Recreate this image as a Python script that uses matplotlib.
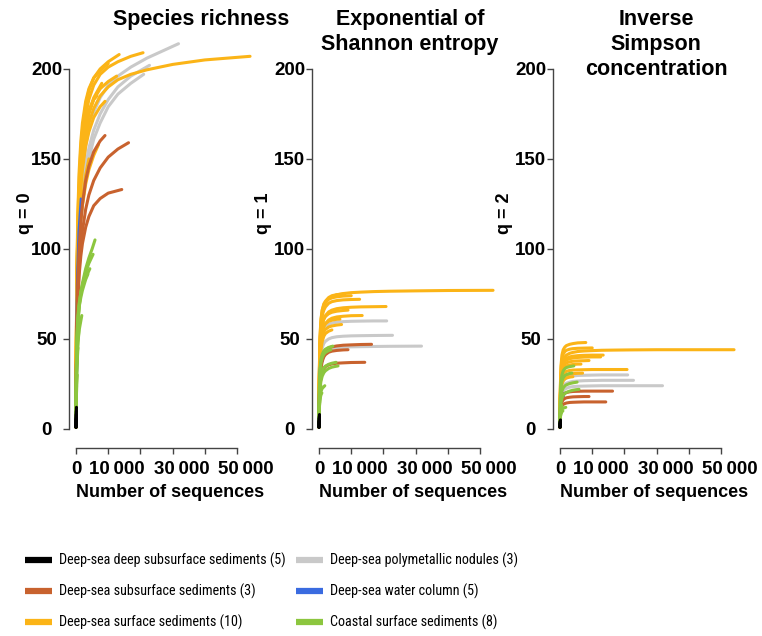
import matplotlib
matplotlib.use("Agg")
import matplotlib.pyplot as plt
from matplotlib import font_manager
from matplotlib.font_manager import FontProperties
from matplotlib.lines import Line2D
from matplotlib.transforms import ScaledTranslation


def pick_font(names):
    for name in names:
        try:
            font_manager.findfont(FontProperties(family=name), fallback_to_default=False)
            return name
        except ValueError:
            pass
    return "DejaVu Sans"


def narrow_font_file():
    fonts = font_manager.fontManager.ttflist
    regular = [f for f in fonts if f.style == "normal" and f.weight in (400, "normal", "regular")]
    for f in regular:
        if f.name in ("Liberation Sans Narrow", "Arial Narrow"):
            return f.fname
    for f in regular:
        if f.name.startswith(("Roboto", "Open Sans", "Noto Sans")) and (
                "Condensed" in f.name or f.stretch == "condensed"):
            return f.fname
    for f in regular:
        if f.name == "DejaVu Sans" and f.stretch == "condensed":
            return f.fname
    return None


MAIN_FONT = pick_font(["Liberation Sans", "Arial", "DejaVu Sans"])
plt.rcParams["font.family"] = MAIN_FONT

# ---- rarefaction curves: sequencing depth and diversity of order q = 0, 1, 2 ----
# deep-sea deep subsurface sediments
deep_depth = [[1, 60, 150], [1, 50, 120], [1, 40, 90], [1, 30, 70], [1, 20, 40]]
deep_q0 = [[1, 8, 12], [1, 7, 10], [1, 6, 8], [1, 5, 6], [1, 4, 5]]
deep_q1 = [[1, 6, 8], [1, 5, 7], [1, 4.5, 6], [1, 4, 4.5], [1, 3.5, 4]]
deep_q2 = [[1, 4, 5], [1, 4, 4.5], [1, 3.5, 4], [1, 3, 3.2], [1, 2.5, 3]]

# deep-sea subsurface sediments
subsurf_depth = [[1, 100, 300, 600, 1000, 1500, 2000, 3000, 4000, 5500, 7500, 10000, 13000, 16300],
                 [1, 100, 300, 600, 1000, 1500, 2000, 3000, 4000, 5500, 7500, 9000],
                 [1, 100, 300, 600, 1000, 1500, 2000, 3000, 4000, 5500, 7500, 10000, 14200]]
subsurf_q0 = [[1, 30, 55, 75, 90, 102, 110, 122, 130, 138, 145, 151, 155.5, 159],
              [1, 34, 62, 84, 101, 115, 125, 138, 146, 154, 160, 163],
              [1, 30, 55, 72, 86, 96, 103, 112, 118, 124, 128, 131, 133]]
subsurf_q1 = [[1, 18, 29, 36, 40, 42.5, 43.8, 45, 45.6, 46.1, 46.5, 46.7, 46.9, 47],
              [1, 17, 27, 33.5, 37.5, 40, 41.3, 42.6, 43.2, 43.6, 43.9, 44],
              [1, 15, 23, 28.5, 31.7, 33.6, 34.6, 35.6, 36.1, 36.5, 36.7, 36.9, 37]]
subsurf_q2 = [[1, 11, 15.5, 17.7, 19, 19.8, 20.2, 20.6, 20.8, 20.9, 21, 21, 21, 21],
              [1, 9, 13, 15, 16.2, 16.9, 17.3, 17.6, 17.8, 17.9, 18, 18],
              [1, 8, 11, 12.7, 13.6, 14.1, 14.4, 14.7, 14.8, 14.9, 15, 15, 15]]

# deep-sea surface sediments
surf_depth = [[1, 100, 300, 600, 1000, 1500, 2000, 3000, 4000, 5500, 7500, 10000, 13000, 17000, 22000, 30000, 40000, 54000],
              [1, 100, 300, 600, 1000, 1500, 2000, 3000, 4000, 5500, 7500, 10000, 13000, 17000, 20800],
              [1, 100, 300, 600, 1000, 1500, 2000, 3000, 4000, 5500, 7500, 10000, 13400],
              [1, 100, 300, 600, 1000, 1500, 2000, 3000, 4000, 5500, 8000],
              [1, 100, 300, 600, 1000, 1500, 2000, 3000, 4000, 5500, 7500, 10000, 12600],
              [1, 100, 300, 600, 1000, 1500, 2000, 3000, 4000, 5500, 7500, 10000],
              [1, 100, 300, 600, 1000, 1500, 2000, 3000, 4000, 5500, 6500],
              [1, 100, 300, 600, 1000, 1500, 2000, 3000, 4000, 5500, 7500, 9000],
              [1, 100, 300, 600, 1000, 1500, 2000, 3000, 4000, 5500, 7000],
              [1, 100, 300, 600, 1000, 1500, 2000, 3000, 4000]]
surf_q0 = [[1, 40, 75, 102, 122, 138, 148, 161, 170, 178, 185, 190, 194, 197, 199.5, 202.5, 205, 207],
           [1, 45, 82, 112, 133, 150, 160, 174, 183, 191, 197, 201, 204, 207, 209],
           [1, 48, 88, 118, 140, 156, 166, 180, 188, 195, 200, 204, 208],
           [1, 45, 85, 112, 132, 146, 156, 168, 176, 184, 192],
           [1, 42, 80, 108, 128, 143, 153, 166, 175, 183, 189, 193, 196],
           [1, 50, 92, 122, 144, 160, 170, 182, 189, 195, 199, 203],
           [1, 46, 86, 113, 133, 148, 158, 170, 177, 183, 185],
           [1, 40, 75, 100, 120, 134, 144, 157, 165, 173, 179, 182],
           [1, 36, 66, 88, 104, 116, 124, 136, 144, 152, 158],
           [1, 36, 66, 88, 106, 119, 128, 141, 150]]
surf_q1 = [[1, 28, 46, 57, 64, 68, 70, 72.5, 73.5, 74.5, 75.2, 75.7, 76, 76.3, 76.5, 76.7, 76.9, 77],
           [1, 27, 43, 52, 58, 61, 63, 65, 66, 66.8, 67.3, 67.6, 67.8, 67.9, 68],
           [1, 26, 41, 49, 54, 57, 58.5, 60.5, 61.5, 62.2, 62.6, 62.9, 63],
           [1, 31, 50, 60, 66, 69.5, 71, 73, 74, 74.6, 75],
           [1, 29, 47, 57, 63, 66, 67.8, 69.8, 70.7, 71.3, 71.7, 71.9, 72],
           [1, 32, 51, 61, 66, 69, 70.5, 72, 72.8, 73.4, 73.8, 74],
           [1, 24, 40, 49, 54, 57, 58.5, 59.8, 60.4, 60.9, 61],
           [1, 26, 43, 52, 58, 61, 62.5, 64, 64.8, 65.4, 65.8, 66],
           [1, 23, 38, 46, 51, 54, 55.3, 56.6, 57.2, 57.7, 58],
           [1, 23, 36, 44, 48.5, 51.5, 53, 54.3, 55]]
surf_q2 = [[1, 19, 30, 35, 38, 40, 41, 42, 42.5, 43, 43.3, 43.5, 43.7, 43.8, 43.9, 44, 44, 44],
           [1, 17, 25, 28.5, 30.5, 31.5, 32, 32.5, 32.7, 32.8, 32.9, 33, 33, 33, 33],
           [1, 19, 29, 34, 37, 38.5, 39.3, 40, 40.4, 40.7, 40.9, 41, 41],
           [1, 23, 35, 41, 44, 45.5, 46.3, 47, 47.4, 47.8, 48],
           [1, 18, 28, 33, 36, 37.5, 38.3, 39, 39.4, 39.7, 39.9, 40, 40],
           [1, 22, 33, 38.5, 41.5, 43, 43.7, 44.3, 44.6, 44.8, 44.9, 45],
           [1, 17, 26, 30.5, 33, 34.3, 35, 35.5, 35.8, 36, 36],
           [1, 17, 27, 31.5, 34.5, 36, 36.7, 37.3, 37.6, 37.8, 37.9, 38],
           [1, 15, 23, 26.5, 28.5, 29.5, 30, 30.5, 30.7, 30.9, 31],
           [1, 14, 22, 25, 26.8, 27.8, 28.3, 28.8, 29]]

# deep-sea polymetallic nodules
nodule_depth = [[1, 100, 300, 600, 1000, 1500, 2000, 3000, 4000, 5500, 7500, 10000, 13000, 17000, 22000, 31800],
                [1, 100, 300, 600, 1000, 1500, 2000, 3000, 4000, 5500, 7500, 10000, 13000, 17000, 22800],
                [1, 100, 300, 600, 1000, 1500, 2000, 3000, 4000, 5500, 7500, 10000, 13000, 17000, 21000]]
nodule_q0 = [[1, 38, 70, 95, 115, 131, 142, 157, 167, 176, 184, 191, 196, 201, 206, 214],
             [1, 35, 64, 87, 106, 121, 131, 146, 156, 166, 175, 183, 190, 196, 202],
             [1, 33, 60, 82, 100, 115, 125, 140, 150, 161, 170, 179, 186, 192, 197]]
nodule_q1 = [[1, 20, 30, 36, 39.5, 41.7, 42.8, 44, 44.6, 45.1, 45.4, 45.6, 45.7, 45.8, 45.9, 46],
             [1, 22, 34, 41, 45, 47.5, 48.7, 50, 50.7, 51.2, 51.5, 51.7, 51.8, 51.9, 52],
             [1, 25, 39, 47, 52, 55, 56.5, 58, 58.8, 59.3, 59.6, 59.8, 59.9, 60, 60]]
nodule_q2 = [[1, 12, 17, 19.7, 21.2, 22.1, 22.6, 23.2, 23.5, 23.7, 23.8, 23.9, 24, 24, 24, 24],
             [1, 13, 19, 22, 23.8, 24.8, 25.4, 26, 26.4, 26.6, 26.8, 26.9, 27, 27, 27],
             [1, 14, 21, 24.5, 26.5, 27.7, 28.3, 29, 29.4, 29.7, 29.8, 29.9, 30, 30, 30]]

# deep-sea water column
water_depth = [[1, 100, 300, 800, 1500], [1, 100, 300, 700, 1200],
               [1, 100, 300, 800], [1, 100, 500], [1, 100, 300]]
water_q0 = [[1, 45, 80, 110, 128], [1, 40, 70, 95, 110],
            [1, 28, 42, 57], [1, 22, 40], [1, 15, 24]]
water_q1 = [[1, 25, 34, 38, 40], [1, 23, 32, 36, 38],
            [1, 18, 25, 30], [1, 14, 22], [1, 10, 15]]
water_q2 = [[1, 14, 18, 19.5, 20], [1, 13, 16, 17.5, 18],
            [1, 10, 12.5, 14], [1, 8, 10], [1, 6, 8]]

# coastal surface sediments
coast_depth = [[1, 100, 300, 600, 1000, 1500, 2000, 3000, 4000, 5000, 5900],
               [1, 100, 300, 600, 1000, 1500, 2000, 3000, 4000, 5300],
               [1, 100, 300, 600, 1000, 1500, 2000, 3000, 4300],
               [1, 100, 300, 600, 1000, 1500, 2000, 3000, 3700],
               [1, 100, 300, 600, 1000, 1800],
               [1, 100, 300, 600, 900],
               [1, 100, 300, 600],
               [1, 100, 250, 400]]
coast_q0 = [[1, 28, 45, 58, 68, 76, 81, 89, 95, 100, 105],
            [1, 30, 48, 60, 69, 76, 80, 87, 92, 97],
            [1, 33, 52, 63, 70, 75, 79, 84, 89],
            [1, 31, 50, 61, 68, 73, 77, 83, 86],
            [1, 24, 38, 48, 55, 63],
            [1, 24, 38, 48, 55],
            [1, 21, 35, 45],
            [1, 17, 25, 30]]
coast_q1 = [[1, 15, 22, 26.5, 29.3, 31.2, 32.3, 33.6, 34.3, 34.7, 35],
            [1, 17, 25, 29.5, 32.3, 34, 34.9, 35.9, 36.5, 37],
            [1, 23, 33, 38.5, 41.5, 43.3, 44.3, 45.3, 46],
            [1, 21, 31, 36.5, 39.6, 41.5, 42.5, 43.5, 44],
            [1, 13, 18, 20.8, 22.5, 24],
            [1, 12, 16.5, 18.8, 20],
            [1, 14, 20, 24],
            [1, 11, 15.5, 18]]
coast_q2 = [[1, 10, 14.5, 17, 18.6, 19.7, 20.3, 21, 21.5, 21.8, 22],
            [1, 12, 18, 21, 22.8, 23.9, 24.5, 25.2, 25.6, 26],
            [1, 17, 26, 30, 32.3, 33.5, 34.1, 34.6, 35],
            [1, 15, 23, 26.5, 28.5, 29.6, 30.2, 30.8, 31],
            [1, 7.5, 9.8, 10.9, 11.5, 12],
            [1, 6.5, 8.5, 9.5, 10],
            [1, 8.5, 11.5, 13],
            [1, 6.5, 8.2, 9]]

group_labels = ["Deep-sea deep subsurface sediments (5)",
                "Deep-sea subsurface sediments (3)",
                "Deep-sea surface sediments (10)",
                "Deep-sea polymetallic nodules (3)",
                "Deep-sea water column (5)",
                "Coastal surface sediments (8)"]
group_colors = ["#000000", "#C8622E", "#FBB417", "#C9C9C9", "#3A6BE0", "#8CC63F"]

panel_titles = ["Species richness", "Exponential of\nShannon entropy",
                "Inverse\nSimpson\nconcentration"]
panel_ylabels = ["q = 0", "q = 1", "q = 2"]
y_ticks = [0, 50, 100, 150, 200]
x_ticks = [0, 10000, 20000, 30000, 40000, 50000]
x_ticklabels = ["0", "10\u2009000", "", "30\u2009000", "", "50\u2009000"]

groups = {
    "deep": (deep_depth, [deep_q0, deep_q1, deep_q2], group_colors[0]),
    "subsurf": (subsurf_depth, [subsurf_q0, subsurf_q1, subsurf_q2], group_colors[1]),
    "surf": (surf_depth, [surf_q0, surf_q1, surf_q2], group_colors[2]),
    "nodule": (nodule_depth, [nodule_q0, nodule_q1, nodule_q2], group_colors[3]),
    "water": (water_depth, [water_q0, water_q1, water_q2], group_colors[4]),
    "coast": (coast_depth, [coast_q0, coast_q1, coast_q2], group_colors[5]),
}
draw_order = ["nodule", "surf", "water", "subsurf", "coast", "deep"]

W, H = 762, 636
fig = plt.figure(figsize=(W / 100, H / 100), dpi=100)
fig.patch.set_facecolor("white")

axis_color = "#444444"
spine_x = [69, 312, 553]
title_x = [201, 410, 656]
ylabel_x = [34, 272, 513]
ax_top, ax_bot, ax_w = 52, 448, 202

for i in range(3):
    ax = fig.add_axes([spine_x[i] / W, 1 - ax_bot / H, ax_w / W, (ax_bot - ax_top) / H])
    ax.patch.set_alpha(0)
    for key in draw_order:
        depths, qs, color = groups[key]
        lw = 1.6 if key == "water" else 2.2
        for d, v in zip(depths, qs[i]):
            ax.plot(d, v, color=color, lw=lw, solid_capstyle="round",
                    solid_joinstyle="round", clip_on=False)

    ax.set_xlim(-2170, 60500)
    ax.set_ylim(-10.6, 209.4)
    for side in ("top", "right"):
        ax.spines[side].set_visible(False)
    ax.spines["left"].set_bounds(0, 200)
    ax.spines["bottom"].set_bounds(0, 50000)
    for side in ("left", "bottom"):
        ax.spines[side].set_color(axis_color)
        ax.spines[side].set_linewidth(1.0)

    ax.set_yticks(y_ticks)
    ax.set_yticklabels([str(t) for t in y_ticks])
    ax.set_xticks(x_ticks)
    ax.set_xticklabels(x_ticklabels)
    ax.tick_params(axis="y", length=4.5, width=1.0, color=axis_color, pad=11.5,
                   labelsize=13.5)
    ax.tick_params(axis="x", length=4, width=1.0, color=axis_color, pad=5,
                   labelsize=13.5)
    for lab in ax.get_yticklabels():
        lab.set_horizontalalignment("center")
        lab.set_fontweight("bold")
    # the thousands labels sit a little to the right of their ticks
    shift = ScaledTranslation(9 / 100, 0, fig.dpi_scale_trans)
    for lab in ax.get_xticklabels():
        lab.set_fontweight("bold")
        if lab.get_text() not in ("", "0"):
            lab.set_transform(lab.get_transform() + shift)

    ax.set_xlabel("Number of sequences", fontsize=13, fontweight="bold", labelpad=5)
    ax.set_ylabel(panel_ylabels[i], fontsize=13, fontweight="bold")
    ax.yaxis.set_label_coords((ylabel_x[i] - spine_x[i]) / ax_w,
                              (ax_bot - 213) / (ax_bot - ax_top))

    fig.text(title_x[i] / W, 1 - 9 / H, panel_titles[i], ha="center", va="top",
             fontsize=15.5, fontweight="bold", linespacing=1.25)

narrow = narrow_font_file()
if narrow:
    legend_prop = FontProperties(fname=narrow, size=10.2)
else:
    legend_prop = FontProperties(family=MAIN_FONT, size=9.2)

handles = [Line2D([], [], color=c, lw=4.5, solid_capstyle="butt") for c in group_colors]
fig.legend(handles, group_labels, ncol=2, loc="upper left",
           bbox_to_anchor=(25 / W, 1 - 553 / H), frameon=False,
           borderpad=0, borderaxespad=0, handlelength=1.9, handletextpad=0.5,
           columnspacing=0.75, labelspacing=1.1, prop=legend_prop)

fig.savefig("out.png", dpi=100)
